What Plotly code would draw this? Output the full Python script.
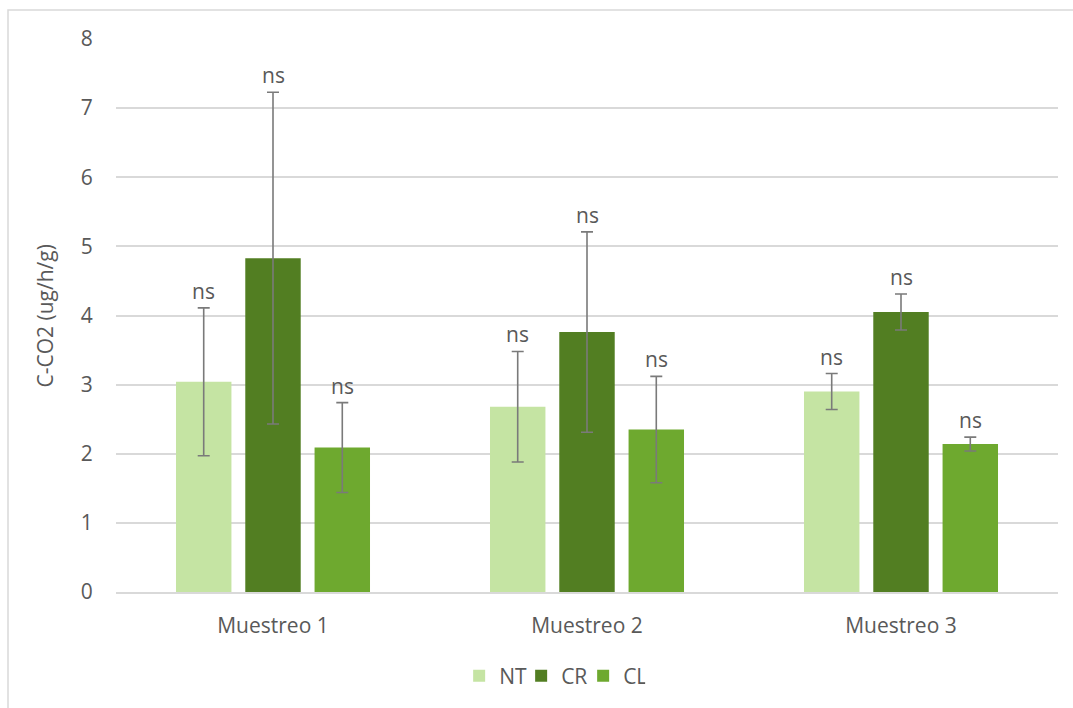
import plotly.graph_objects as go

# Sampling campaigns and treatments
categories = ["Muestreo 1", "Muestreo 2", "Muestreo 3"]
series_names = ["NT", "CR", "CL"]

# Mean C-CO2 respiration (ug/h/g) and error bar half-widths
nt_values = [3.04, 2.68, 2.90]
nt_errors = [1.07, 0.80, 0.26]
cr_values = [4.83, 3.76, 4.05]
cr_errors = [2.40, 1.45, 0.26]
cl_values = [2.09, 2.35, 2.14]
cl_errors = [0.65, 0.77, 0.10]

# Significance label per bar
nt_labels = ["ns", "ns", "ns"]
cr_labels = ["ns", "ns", "ns"]
cl_labels = ["ns", "ns", "ns"]

y_ticks = [0, 1, 2, 3, 4, 5, 6, 7, 8]

colors = {"NT": "#C5E4A3", "CR": "#527E22", "CL": "#6EA92F"}
text_color = "#595959"
grid_color = "#D9D9D9"
font_family = "Open Sans"
fs = 21

W, H = 1073, 708
margin = dict(l=116, r=15, t=39, b=114)

fig = go.Figure()

data = [
    ("NT", nt_values, nt_errors, nt_labels),
    ("CR", cr_values, cr_errors, cr_labels),
    ("CL", cl_values, cl_errors, cl_labels),
]

for name, vals, errs, _ in data:
    fig.add_trace(go.Bar(
        name=name,
        x=categories,
        y=vals,
        marker=dict(color=colors[name], line=dict(width=0)),
        error_y=dict(type="data", array=errs, visible=True,
                     color="#7A7A7A", thickness=1.6, width=6),
        offsetgroup=name,
    ))

fig.update_layout(
    width=W, height=H,
    margin=margin,
    barmode="group",
    bargap=0.338,
    bargroupgap=0.2,
    plot_bgcolor="white",
    paper_bgcolor="white",
    font=dict(family=font_family, size=fs, color=text_color),
    showlegend=True,
    legend=dict(orientation="h", x=0.463, xanchor="center",
                y=-0.152, yanchor="middle",
                font=dict(size=fs, color=text_color),
                itemwidth=30, traceorder="normal",
                entrywidth=17, entrywidthmode="pixels"),
)

fig.update_yaxes(
    range=[0, 8], tickvals=y_ticks,
    showgrid=True, gridcolor=grid_color, gridwidth=1.5,
    zeroline=False, showline=False,
    ticks="outside", ticklen=18, tickcolor="rgba(0,0,0,0)",
    tickfont=dict(size=fs, color=text_color),
)
fig.update_xaxes(
    showline=True, linecolor=grid_color, linewidth=1.5,
    ticks="outside", ticklen=14, tickcolor="rgba(0,0,0,0)",
    tickfont=dict(size=fs, color=text_color),
)

# "ns" labels above each error bar, placed at the group offsets
n_series = len(data)
group_width = 1 - 0.338
slot = group_width / n_series
for i, (name, vals, errs, labels) in enumerate(data):
    offset = -group_width / 2 + slot * (i + 0.5)
    for j, (v, e, lab) in enumerate(zip(vals, errs, labels)):
        fig.add_annotation(
            x=j + offset, y=v + e, xref="x", yref="y",
            text=lab, showarrow=False,
            yanchor="bottom", yshift=1,
            font=dict(size=fs, color=text_color),
        )

# Axis title
fig.add_annotation(
    x=-0.0754, y=0.5, xref="paper", yref="paper",
    text="C-CO2 (ug/h/g)", textangle=-90, showarrow=False,
    xanchor="center", yanchor="middle",
    font=dict(size=fs, color=text_color),
)

# Chart-area border
pw = W - margin["l"] - margin["r"]
ph = H - margin["t"] - margin["b"]
fig.add_shape(
    type="rect", xref="paper", yref="paper",
    x0=(8 - margin["l"]) / pw, x1=(W + 10 - margin["l"]) / pw,
    y0=(H - margin["b"] - (H + 10)) / ph, y1=(H - margin["b"] - 10) / ph,
    line=dict(color=grid_color, width=1.5), fillcolor="rgba(0,0,0,0)",
    layer="below",
)

fig.write_html("out.html")
